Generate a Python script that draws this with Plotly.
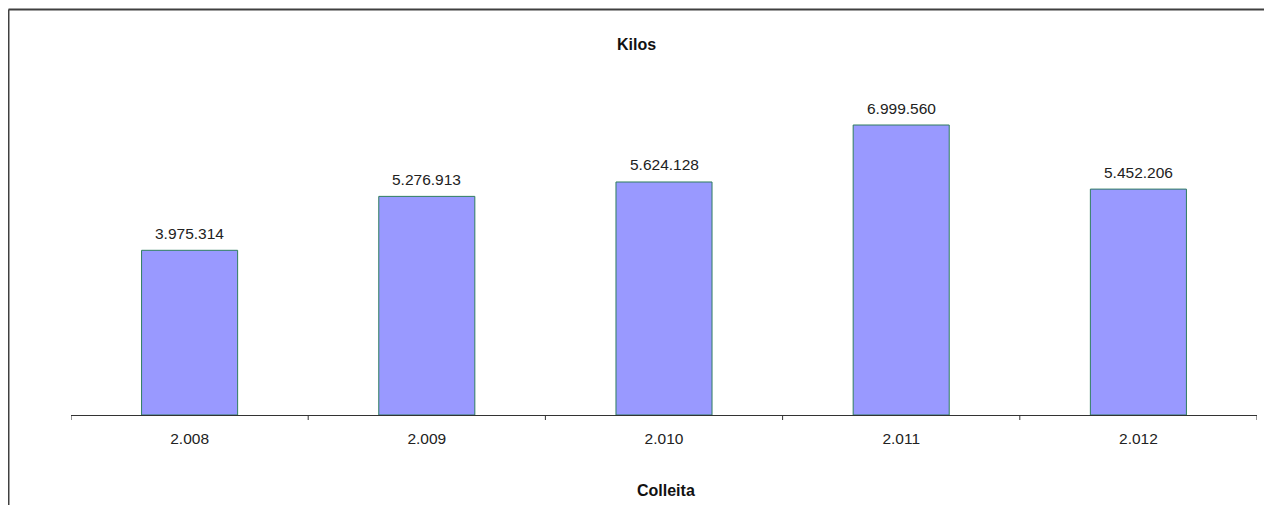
import plotly.graph_objects as go

years = ["2.008", "2.009", "2.010", "2.011", "2.012"]
kilos = [3975314, 5276913, 5624128, 6999560, 5452206]
labels = [f"{v:,}".replace(",", ".") for v in kilos]

FONT = "Liberation Sans, Arial"

fig = go.Figure()
fig.add_trace(go.Bar(
    x=list(range(len(years))), y=kilos, width=0.405,
    marker=dict(color="#9999FF", line=dict(color="#2E7D5F", width=1)),
    hoverinfo="skip", showlegend=False,
))
for i, (v, t) in enumerate(zip(kilos, labels)):
    fig.add_annotation(x=i, y=v, text=t, showarrow=False, yshift=17,
                       xanchor="center", yanchor="middle",
                       font=dict(family=FONT, size=15.5, color="#222222"))

# page has 8px body margin; plot area: x 71..1257, y 80..415 in page pixels
fig.update_layout(
    width=1264, height=497,
    margin=dict(l=63, r=15, t=72, b=90, autoexpand=False),
    paper_bgcolor="white", plot_bgcolor="white",
    font=dict(family=FONT, size=15.5, color="#222222"),
    showlegend=False,
    xaxis=dict(
        tickmode="array", tickvals=list(range(len(years))), ticktext=years,
        range=[-0.5, len(years) - 0.5], fixedrange=True,
        showline=True, linecolor="#333333", linewidth=1,
        showgrid=False, zeroline=False, ticks="", ticklabelstandoff=9,
        tickfont=dict(family=FONT, size=15.5, color="#222222"),
    ),
    yaxis=dict(range=[0, 8.086e6], visible=False, showgrid=False, fixedrange=True),
)
# chart border (left and top edges visible in the reference)
bx0, by1 = -0.0527, 1.2104
fig.add_shape(type="line", xref="paper", yref="paper", x0=bx0, x1=bx0, y0=-0.3, y1=by1,
              line=dict(color="#404040", width=2))
fig.add_shape(type="line", xref="paper", yref="paper", x0=bx0, x1=1.0126, y0=by1, y1=by1,
              line=dict(color="#404040", width=2))
# boundary tick marks below the axis
for b in [k - 0.5 for k in range(len(years) + 1)]:
    fig.add_shape(type="line", xref="x", yref="paper", x0=b, x1=b,
                  y0=0, y1=-5 / 335, line=dict(color="#333333", width=1))

fig.add_annotation(text="<b>Kilos</b>", xref="paper", yref="paper",
                   x=(636 - 71) / 1186, y=(415 - 45) / 335, showarrow=False,
                   xanchor="center", yanchor="middle",
                   font=dict(family=FONT, size=16, color="#111111"))
fig.add_annotation(text="<b>Colleita</b>", xref="paper", yref="paper",
                   x=(666 - 71) / 1186, y=(415 - 490) / 335, showarrow=False,
                   xanchor="center", yanchor="middle",
                   font=dict(family=FONT, size=16, color="#111111"))

fig.write_html("out.html", config={"displayModeBar": False})
